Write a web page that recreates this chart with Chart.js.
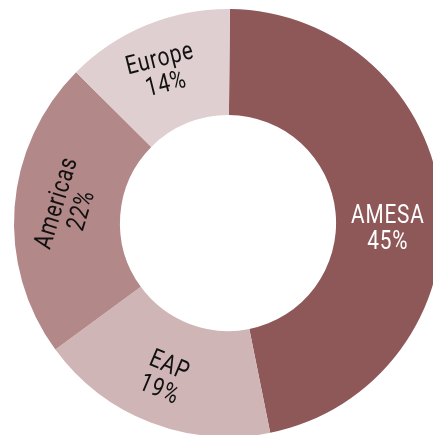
<!DOCTYPE html>
<html>
<head>
<meta charset="utf-8">
<script src="https://cdn.jsdelivr.net/npm/chart.js@4"></script>
<style>
  html, body { margin: 0; padding: 0; background: #fff; overflow: hidden; }
  #wrap { position: absolute; left: 0; top: 0; }
</style>
</head>
<body>
<div id="wrap"><canvas id="regions" width="456" height="446"></canvas></div>
<script>
// region shares as drawn (arc sizes) and as printed on the labels
const regions = ['AMESA', 'EAP', 'Americas', 'Europe'];
const arcShare = [46.7, 18.1, 22.5, 12.7];
const shareLabels = ['45%', '19%', '22%', '14%'];

const sliceColors = ['#8f5858', '#d0b5b6', '#b38888', '#e0cfd0'];
const textColors = ['#ffffff', '#111111', '#111111', '#111111'];
// label styling: rotation and angular shift in degrees, distance from the centre
const labelRotation = [0, 23, -73, -14];
const labelShift = [7.9, 1.2, 1.5, -0.9];
const labelRadius = [160, 168, 159, 164];

const sliceLabels = {
  id: 'sliceLabels',
  afterDatasetsDraw(chart) {
    const ctx = chart.ctx;
    const meta = chart.getDatasetMeta(0);
    ctx.save();
    ctx.font = "26px Roboto, 'DejaVu Sans Condensed', sans-serif";
    ctx.letterSpacing = '1px';
    ctx.textAlign = 'center';
    ctx.textBaseline = 'middle';
    meta.data.forEach((arc, i) => {
      const mid = (arc.startAngle + arc.endAngle) / 2 + labelShift[i] * Math.PI / 180;
      const x = arc.x + Math.cos(mid) * labelRadius[i];
      const y = arc.y + Math.sin(mid) * labelRadius[i];
      ctx.save();
      ctx.translate(x, y);
      ctx.rotate(labelRotation[i] * Math.PI / 180);
      ctx.scale(0.8, 1);
      ctx.fillStyle = textColors[i];
      ctx.fillText(regions[i], 0, -13);
      ctx.fillText(shareLabels[i], 0, 13);
      ctx.restore();
    });
    ctx.restore();
  }
};

new Chart(document.getElementById('regions'), {
  type: 'doughnut',
  data: {
    labels: regions,
    datasets: [{
      data: arcShare,
      backgroundColor: sliceColors,
      borderWidth: 0
    }]
  },
  options: {
    responsive: false,
    animation: false,
    cutout: '50.5%',
    rotation: 0.5,
    layout: { padding: 9 },
    plugins: {
      legend: { display: false },
      tooltip: { enabled: false }
    }
  },
  plugins: [sliceLabels]
});
</script>
</body>
</html>
